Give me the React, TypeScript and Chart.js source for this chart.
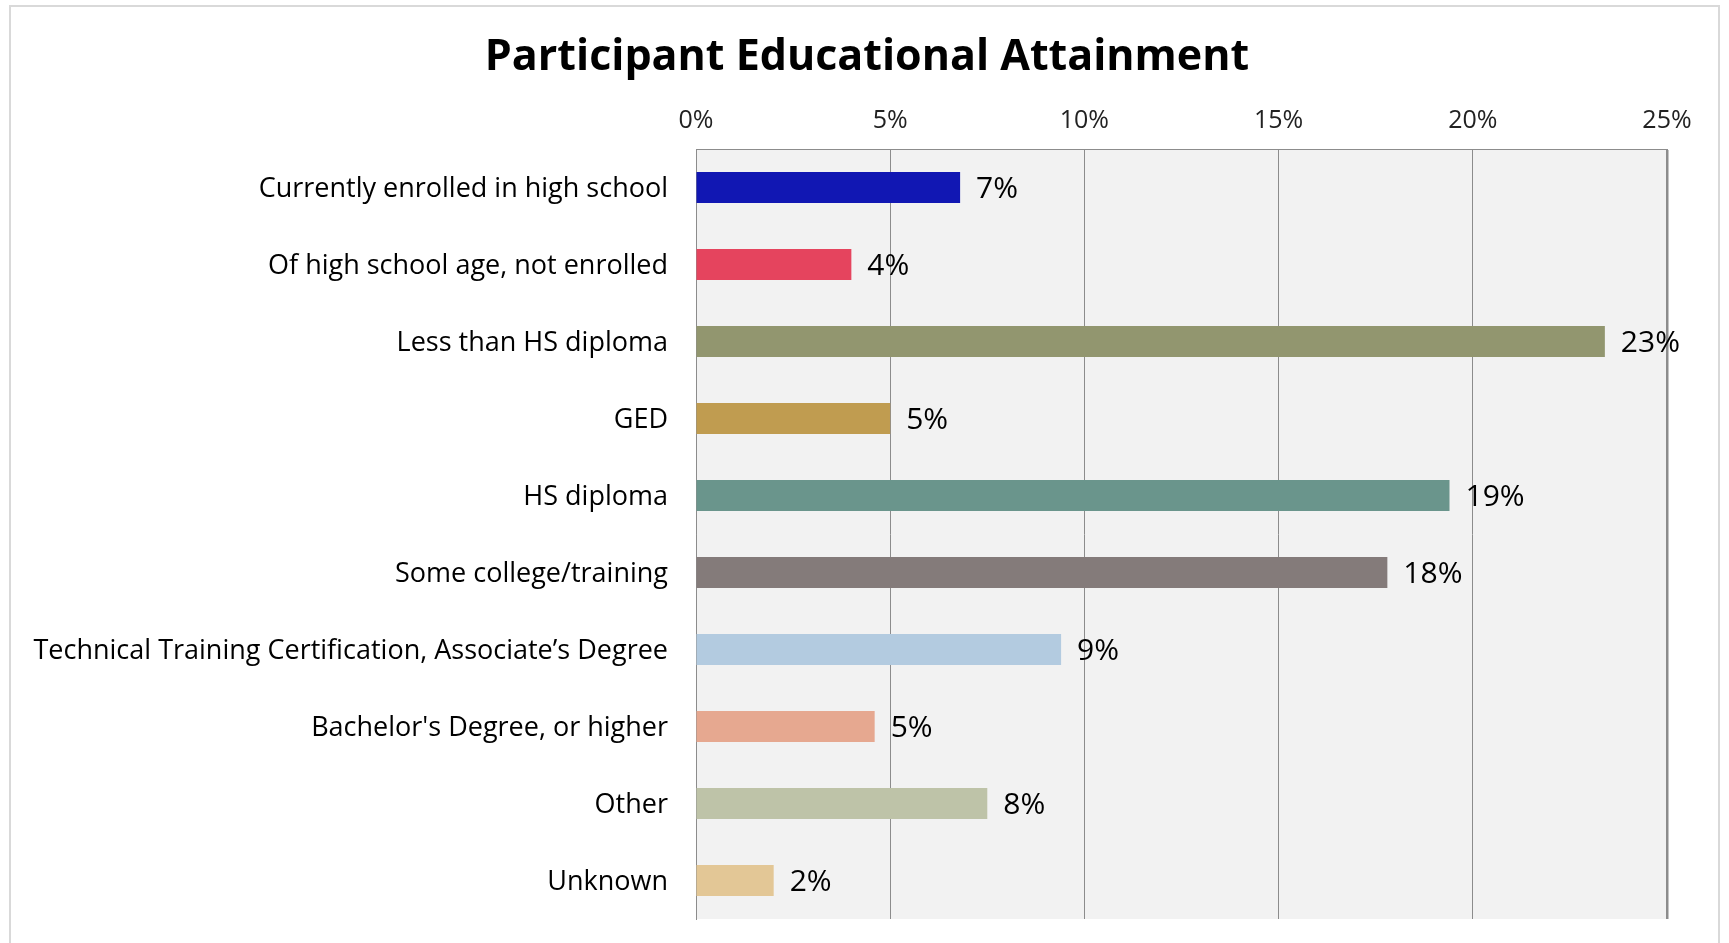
import React, { useEffect, useRef } from "react";
import { Chart, registerables } from "chart.js";

Chart.register(...registerables);

const chartTitle = "Participant Educational Attainment";

const categories = [
  "Currently enrolled in high school",
  "Of high school age, not enrolled",
  "Less than HS diploma",
  "GED",
  "HS diploma",
  "Some college/training",
  "Technical Training Certification, Associate\u2019s Degree",
  "Bachelor's Degree, or higher",
  "Other",
  "Unknown",
];

const values = [6.8, 4.0, 23.4, 5.0, 19.4, 17.8, 9.4, 4.6, 7.5, 2.0];

const valueLabels = ["7%", "4%", "23%", "5%", "19%", "18%", "9%", "5%", "8%", "2%"];

const barColors = [
  "#1117B3",
  "#E5445E",
  "#92966F",
  "#C09C50",
  "#6A958C",
  "#847B7A",
  "#B3CBE0",
  "#E6A890",
  "#BEC3A8",
  "#E3C796",
];

const tickValues = [0, 5, 10, 15, 20, 25];

const FONT = "'Open Sans', Lato, sans-serif";

const plotBg = {
  id: "plotBg",
  beforeDraw(chart: any) {
    const { ctx, chartArea } = chart;
    ctx.save();
    ctx.fillStyle = "#F2F2F2";
    ctx.fillRect(chartArea.left, chartArea.top, chartArea.right - chartArea.left, chartArea.bottom - chartArea.top);
    ctx.restore();
  },
};

const titlePlugin = {
  id: "centeredTitle",
  afterDraw(chart: any) {
    const { ctx } = chart;
    ctx.save();
    ctx.font = `bold 43px ${FONT}`;
    ctx.fillStyle = "#000";
    ctx.textAlign = "center";
    ctx.textBaseline = "middle";
    ctx.fillText(chartTitle, 867, 58);
    ctx.restore();
  },
};

const valueLabelPlugin = {
  id: "valueLabels",
  afterDatasetsDraw(chart: any) {
    const { ctx } = chart;
    const meta = chart.getDatasetMeta(0);
    ctx.save();
    ctx.font = `30px ${FONT}`;
    ctx.fillStyle = "#000";
    ctx.textAlign = "left";
    ctx.textBaseline = "middle";
    meta.data.forEach((el: any, i: number) => {
      ctx.fillText(valueLabels[i], el.x + 16, el.y + 2);
    });
    ctx.restore();
  },
};

export default function App() {
  const ref = useRef<HTMLCanvasElement | null>(null);

  useEffect(() => {
    if (!ref.current) return;
    const chart = new Chart(ref.current, {
      type: "bar",
      data: {
        labels: categories,
        datasets: [
          {
            data: values,
            backgroundColor: barColors,
            barPercentage: 0.4,
            categoryPercentage: 1,
          },
        ],
      },
      options: {
        indexAxis: "y",
        animation: false,
        responsive: false,
        maintainAspectRatio: false,
        layout: { padding: { left: 0, top: 80, right: 62, bottom: 24 } },
        plugins: {
          legend: { display: false },
          tooltip: { enabled: false },
          title: { display: false },
        },
        scales: {
          x: {
            position: "top",
            min: 0,
            max: 25,
            afterBuildTicks(scale: any) {
              scale.ticks = tickValues.map((v) => ({ value: v }));
            },
            afterFit(scale: any) {
              scale.height = 69;
              scale.paddingLeft = 0;
              scale.paddingRight = 0;
            },
            ticks: {
              color: "#222",
              font: { family: FONT, size: 25 },
              padding: 13,
              callback: (v: any) => `${v}%`,
            },
            grid: {
              drawTicks: false,
              color: "#8C8C8C",
              lineWidth: (c: any) => (c.index === tickValues.length - 1 ? 2.5 : 1),
            },
            border: { display: true, color: "#8C8C8C", width: 1 },
          },
          y: {
            afterFit(scale: any) {
              scale.width = 696;
              scale.paddingTop = 0;
              scale.paddingBottom = 0;
            },
            ticks: {
              color: "#000",
              font: { family: FONT, size: 27 },
              padding: 28,
              labelOffset: 2,
            },
            grid: { display: false, drawTicks: false },
            border: { display: true, color: "#8C8C8C", width: 1 },
          },
        },
      },
      plugins: [plotBg, valueLabelPlugin, titlePlugin],
    });
    return () => chart.destroy();
  }, []);

  return (
    <div style={{ position: "fixed", left: 0, top: 0, width: 1729, height: 943, overflow: "hidden", background: "#fff" }}>
      <div
        style={{
          position: "absolute",
          left: 9,
          top: 5,
          width: 1711,
          height: 1000,
          border: "2px solid #D9D9D9",
          boxSizing: "border-box",
        }}
      />
      <canvas ref={ref} width={1729} height={943} style={{ position: "absolute", left: 0, top: 0, width: 1729, height: 943 }} />
    </div>
  );
}
